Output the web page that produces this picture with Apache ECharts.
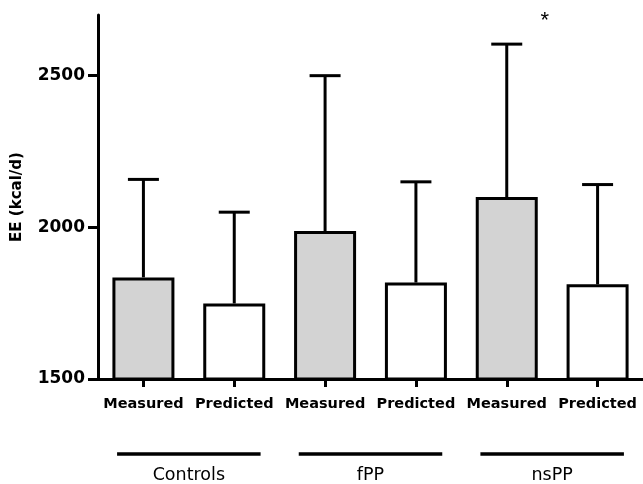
<!DOCTYPE html>
<html>
<head>
<meta charset="utf-8">
<script src="https://cdn.jsdelivr.net/npm/echarts@6/dist/echarts.min.js"></script>
<style>
html,body{margin:0;padding:0;background:#ffffff;}
#chart{width:643px;height:484px;}
</style>
</head>
<body>
<div id="chart"></div>
<script>
const categories = ['Measured', 'Predicted', 'Measured', 'Predicted', 'Measured', 'Predicted'];
const groups = ['Controls', 'fPP', 'nsPP'];
const means = [1835, 1749, 1988, 1818, 2100, 1812];
const errorTops = [2158, 2050, 2500, 2150, 2604, 2141];
const yTicks = [1500, 2000, 2500];
const yMin = 1500, yMax = 2700;

const chart = echarts.init(document.getElementById('chart'), null, {renderer: 'canvas'});

const barData = means.map((v, i) => ({
  value: v,
  itemStyle: {color: i % 2 === 0 ? '#d3d3d3' : '#ffffff'}
}));
const errData = means.map((v, i) => [i, v, errorTops[i]]);

const option = {
  backgroundColor: '#ffffff',
  animation: false,
  grid: {left: 98, right: -5, top: 15, bottom: 104, containLabel: false},
  xAxis: [{
    type: 'category',
    data: categories,
    axisLine: {show: true, lineStyle: {color: '#000', width: 3}},
    axisTick: {show: true, alignWithLabel: true, length: 8, lineStyle: {color: '#000', width: 3}},
    axisLabel: {color: '#000', fontFamily: 'DejaVu Sans', fontWeight: 'bold', fontSize: 14.5, margin: 18, interval: 0},
    splitLine: {show: false}
  }, {
    type: 'category',
    data: groups,
    position: 'bottom',
    axisLine: {show: false},
    axisTick: {show: false},
    axisLabel: {color: '#000', fontFamily: 'DejaVu Sans', fontSize: 17.5, margin: 87, interval: 0},
    splitLine: {show: false}
  }],
  yAxis: {
    type: 'value',
    min: yMin,
    max: yMax,
    interval: 500,
    name: 'EE (kcal/d)',
    nameLocation: 'middle',
    nameGap: 73,
    nameTextStyle: {color: '#000', fontFamily: 'DejaVu Sans', fontWeight: 'bold', fontSize: 15},
    axisLine: {show: true, lineStyle: {color: '#000', width: 3}},
    axisTick: {show: true, inside: false, length: 10, lineStyle: {color: '#000', width: 3}, customValues: yTicks},
    axisLabel: {
      color: '#000', fontFamily: 'DejaVu Sans', fontWeight: 'bold', fontSize: 17, margin: 13,
      customValues: yTicks,
      formatter: function (v) { return String(v); }
    },
    splitLine: {show: false}
  },
  series: [{
    type: 'bar',
    data: barData,
    barWidth: 62,
    itemStyle: {borderColor: '#000', borderWidth: 3},
    z: 2
  }, {
    type: 'custom',
    data: errData,
    z: 3,
    renderItem: function (params, api) {
      const top = api.coord([api.value(0), api.value(1)]);
      const err = api.coord([api.value(0), api.value(2)]);
      const half = 15.5;
      const style = {stroke: '#000', lineWidth: 3};
      return {
        type: 'group',
        children: [
          {type: 'line', shape: {x1: top[0], y1: top[1], x2: err[0], y2: err[1]}, style: style},
          {type: 'line', shape: {x1: err[0] - half, y1: err[1], x2: err[0] + half, y2: err[1]}, style: style}
        ]
      };
    }
  }]
};
chart.setOption(option);

// group underlines and significance marker, placed from the axis scales
const c0 = chart.convertToPixel({xAxisIndex: 0}, 0);
const c1 = chart.convertToPixel({xAxisIndex: 0}, 1);
const band = c1 - c0;
const halfLen = band * 0.79;
const lineY = 454;
const graphics = groups.map((g, i) => {
  const cx = chart.convertToPixel({xAxisIndex: 1}, i);
  return {type: 'line', shape: {x1: cx - halfLen, y1: lineY, x2: cx + halfLen, y2: lineY}, style: {stroke: '#000', lineWidth: 3.5}};
});
const starX = chart.convertToPixel({xAxisIndex: 0}, 4) + band * 0.42;
const starY = chart.convertToPixel({yAxisIndex: 0}, 2680);
graphics.push({type: 'text', x: starX, y: starY, style: {text: '*', fill: '#000', font: '22px "Liberation Sans"', align: 'center', verticalAlign: 'middle'}});
chart.setOption({graphic: graphics});
</script>
</body>
</html>
